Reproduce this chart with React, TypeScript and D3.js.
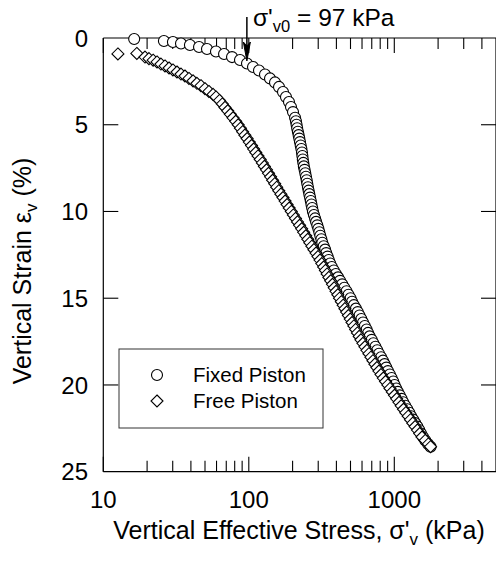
import React from 'react';
import * as d3 from 'd3';

// Fixed piston test: vertical effective stress (kPa) and vertical strain (%)
const fixedStress = [
  16.3, 26.1, 30.1, 34.2, 39.4, 45.5, 51.6, 59.5, 67.6, 76.7, 87.0, 97.2,
  106.9, 117.5, 129.2, 139.9, 151.4, 161.3, 171.8, 180.1, 188.9, 195, 201.3,
  208, 211, 213, 215, 217.5, 220, 222.4, 224.8, 227.3, 229.9, 232, 233.5, 235,
  237, 239, 241.8, 244.5, 247.2, 250, 252.3, 255, 257.8, 260.6, 263.7, 266.7,
  269.6, 272.6, 276, 280.4, 285.5, 290.2, 295.8, 300.8, 305.3, 310, 315.4, 320,
  327.2, 334.5, 340.4, 348, 354.6, 362.6, 372.1, 383.7, 396.7, 410.7, 424,
  438.6, 453.5, 469.4, 484.4, 500.2, 512.4, 527.3, 544.7, 561, 576.5, 593.4,
  609.5, 627.1, 645, 660.4, 677, 699.6, 718, 741.6, 763.3, 785, 811.6, 835.5,
  857.7, 881.2, 904.9, 932, 958, 983, 1004, 1030, 1058, 1089, 1122, 1151, 1188,
  1228, 1268, 1305, 1350, 1392, 1440, 1484, 1526, 1575, 1634, 1705, 1775
];
const fixedStrain = [
  0.06, 0.17, 0.23, 0.32, 0.40, 0.52, 0.63, 0.78, 0.92, 1.10, 1.27, 1.47,
  1.67, 1.87, 2.10, 2.33, 2.56, 2.82, 3.11, 3.40, 3.69, 3.98, 4.27,
  4.6, 4.8, 5.0, 5.2, 5.4, 5.6, 5.8, 6.0, 6.2, 6.4, 6.6, 6.8, 7.0,
  7.2, 7.4, 7.6, 7.8, 8.0, 8.2, 8.4, 8.6, 8.8, 9.0, 9.2, 9.4,
  9.6, 9.8, 10.0, 10.2, 10.4, 10.6, 10.8, 11.0, 11.2, 11.4, 11.6, 11.8,
  12.0, 12.2, 12.4, 12.6, 12.8, 13.0, 13.2, 13.4, 13.6, 13.8, 14.0,
  14.2, 14.4, 14.6, 14.8, 15.0, 15.2, 15.4, 15.6, 15.8, 16.0, 16.2,
  16.4, 16.6, 16.8, 17.0, 17.2, 17.4, 17.6, 17.8, 18.0, 18.2, 18.4, 18.6,
  18.8, 19.0, 19.2, 19.4, 19.6, 19.8, 20.0, 20.2, 20.4, 20.6, 20.8, 21.0, 21.2,
  21.4, 21.6, 21.8, 22.0, 22.2, 22.4, 22.6, 22.8, 23.0, 23.2, 23.4, 23.56
];

// Free piston test
const freeStress = [
  12.6, 17.0, 19.35, 20.6, 22.0, 23.4, 24.9, 26.55, 28.3, 30.1, 32.1, 34.2,
  36.4, 38.8, 41.4, 44.0, 46.9, 50.0, 53.2, 56.8,
  59.5, 62.9, 65.8, 68.6, 71.6, 74.7, 77.9, 81.3, 84.5, 87.6, 90.7, 94.0,
  97.4, 100.8, 104.4, 108.0, 111.7, 115.7, 119.8, 123.9, 128, 132.3, 136.6,
  141.2, 145.7, 150.7, 155.5, 160.7, 166.2, 171.8, 177.6, 183.3, 189.5, 195.9,
  202.4, 209.4, 216.1, 223.4, 230.9, 238.3, 246.4, 254.3, 262.5, 271.4, 280.2,
  289.7, 298.9, 308.5, 317.4, 326.7, 336.1, 345.3, 355.1, 365.4, 376.0, 386.3,
  397.5, 409.0, 420.2, 432.5, 445.1, 457.7, 470.2, 483.6, 497.8, 512.1, 526.9,
  542.2, 557.7, 573.9, 589.7, 608.4, 628, 648.2, 669, 690.6, 713.1, 735.7,
  759.4, 783.7, 810.3, 839.9, 870.1, 902.5, 934.1, 968.8, 1003, 1038, 1077,
  1115, 1156, 1199, 1246, 1292, 1340, 1390, 1442, 1495, 1550, 1631, 1714, 1775
];
const freeStrain = [
  0.92, 0.89, 1.10, 1.19, 1.28, 1.38, 1.50, 1.61, 1.73, 1.84, 1.96, 2.08,
  2.19, 2.33, 2.47, 2.61, 2.75, 2.92, 3.08, 3.25,
  3.4, 3.6, 3.8, 4.0, 4.2, 4.4, 4.6, 4.8, 5.0, 5.2, 5.4, 5.6,
  5.8, 6.0, 6.2, 6.4, 6.6, 6.8, 7.0, 7.2, 7.4, 7.6, 7.8,
  8.0, 8.2, 8.4, 8.6, 8.8, 9.0, 9.2, 9.4, 9.6, 9.8, 10.0,
  10.2, 10.4, 10.6, 10.8, 11.0, 11.2, 11.4, 11.6, 11.8, 12.0, 12.2,
  12.4, 12.6, 12.8, 13.0, 13.2, 13.4, 13.6, 13.8, 14.0, 14.2, 14.4,
  14.6, 14.8, 15.0, 15.2, 15.4, 15.6, 15.8, 16.0, 16.2, 16.4, 16.6,
  16.8, 17.0, 17.2, 17.4, 17.6, 17.8, 18.0, 18.2, 18.4, 18.6, 18.8,
  19.0, 19.2, 19.4, 19.6, 19.8, 20.0, 20.2, 20.4, 20.6, 20.8, 21.0,
  21.2, 21.4, 21.6, 21.8, 22.0, 22.2, 22.4, 22.6, 22.8, 23.0, 23.2, 23.4, 23.56
];

const yTicks = [0, 5, 10, 15, 20, 25];
const xLabelTicks = [10, 100, 1000];
const seriesNames = ['Fixed Piston', 'Free Piston'];
const preconsolidation = 97;

const font = '"Liberation Sans", Arial, sans-serif';
const W = 496;
const H = 567;
const m = { left: 103.3, right: 496, top: 38, bottom: 471.7 };

const x = d3.scaleLog().domain([10, 5000]).range([m.left, m.right]);
const y = d3.scaleLinear().domain([0, 25]).range([m.top, m.bottom]);

const diamond = 'M0,-6L6,0L0,6L-6,0Z';

const App = () => {
  const minorTicks = x.ticks().filter(t => t < 5000);
  const isMajor = (t: number) => Math.abs(Math.log10(t) - Math.round(Math.log10(t))) < 1e-9;

  const fixed = fixedStress.map((s, i) => [s, fixedStrain[i]]);
  const free = freeStress.map((s, i) => [s, freeStrain[i]]);

  const ax = x(preconsolidation);

  return (
    <svg width={W} height={H} style={{ position: 'absolute', left: 0, top: 0, background: '#fff' }}
      fontFamily={font}>
      {/* frame */}
      <g stroke="#000" strokeWidth={1.2} fill="none">
        <line x1={m.left} x2={m.right} y1={m.top} y2={m.top} />
        <line x1={m.left} x2={m.right} y1={m.bottom} y2={m.bottom} />
        <line x1={m.left} x2={m.left} y1={m.top} y2={m.bottom} />
        <line x1={m.right} x2={m.right} y1={m.top} y2={m.bottom} />
      </g>
      {/* x ticks, bottom and top, pointing in */}
      <g stroke="#000" strokeWidth={1.1}>
        {minorTicks.map(t => {
          const len = isMajor(t) ? 15 : 11;
          return (
            <g key={t}>
              <line x1={x(t)} x2={x(t)} y1={m.bottom} y2={m.bottom - len} />
              <line x1={x(t)} x2={x(t)} y1={m.top} y2={m.top + len} />
            </g>
          );
        })}
        {yTicks.slice(1, -1).map(t => (
          <g key={t}>
            <line x1={m.left} x2={m.left + 15} y1={y(t)} y2={y(t)} />
            <line x1={m.right} x2={m.right - 15} y1={y(t)} y2={y(t)} />
          </g>
        ))}
      </g>
      {/* tick labels */}
      <g fontSize={24} fill="#000">
        {xLabelTicks.map(t => (
          <text key={t} x={x(t)} y={508} textAnchor="middle">{t}</text>
        ))}
        {yTicks.map(t => (
          <text key={t} x={88} y={y(t)} dy="0.36em" textAnchor="end">{t}</text>
        ))}
      </g>
      {/* axis titles */}
      <text x={299} y={539} textAnchor="middle" fontSize={25}>
        Vertical Effective Stress, σ'<tspan fontSize={17} dy={6}>v</tspan>
        <tspan dy={-6}> (kPa)</tspan>
      </text>
      <text transform="translate(31,271) rotate(-90)" textAnchor="middle" fontSize={25}>
        Vertical Strain ε<tspan fontSize={17} dy={6}>v</tspan>
        <tspan dy={-6}> (%)</tspan>
      </text>

      {/* data */}
      <g stroke="#000" strokeWidth={1.1} fill="#fff">
        {fixed.map((d, i) => (
          <circle key={'c' + i} cx={x(d[0])} cy={y(d[1])} r={5.5} />
        ))}
        {free.map((d, i) => (
          <path key={'d' + i} d={diamond} transform={`translate(${x(d[0])},${y(d[1])})`} />
        ))}
      </g>

      {/* preconsolidation arrow */}
      <line x1={ax} x2={ax} y1={17} y2={50} stroke="#000" strokeWidth={1.5} />
      <path d={`M${ax},${61}L${ax - 3.5},${42}L${ax},${46}L${ax + 3.5},${42}Z`} fill="#000" stroke="#000" strokeWidth={1} />
      <text x={253} y={26} fontSize={24.5}>
        σ'<tspan fontSize={16.5} dy={6}>v0</tspan>
        <tspan dy={-6}> = {preconsolidation} kPa</tspan>
      </text>

      {/* legend */}
      <rect x={119} y={349} width={204} height={79} fill="#fff" stroke="#333" strokeWidth={1} />
      <circle cx={157} cy={375} r={5.5} fill="#fff" stroke="#000" strokeWidth={1.1} />
      <path d={diamond} transform="translate(157,401)" fill="#fff" stroke="#000" strokeWidth={1.1} />
      <text x={193} y={375} dy="0.36em" fontSize={20.5}>{seriesNames[0]}</text>
      <text x={193} y={401} dy="0.36em" fontSize={20.5}>{seriesNames[1]}</text>
    </svg>
  );
};

export default App;
